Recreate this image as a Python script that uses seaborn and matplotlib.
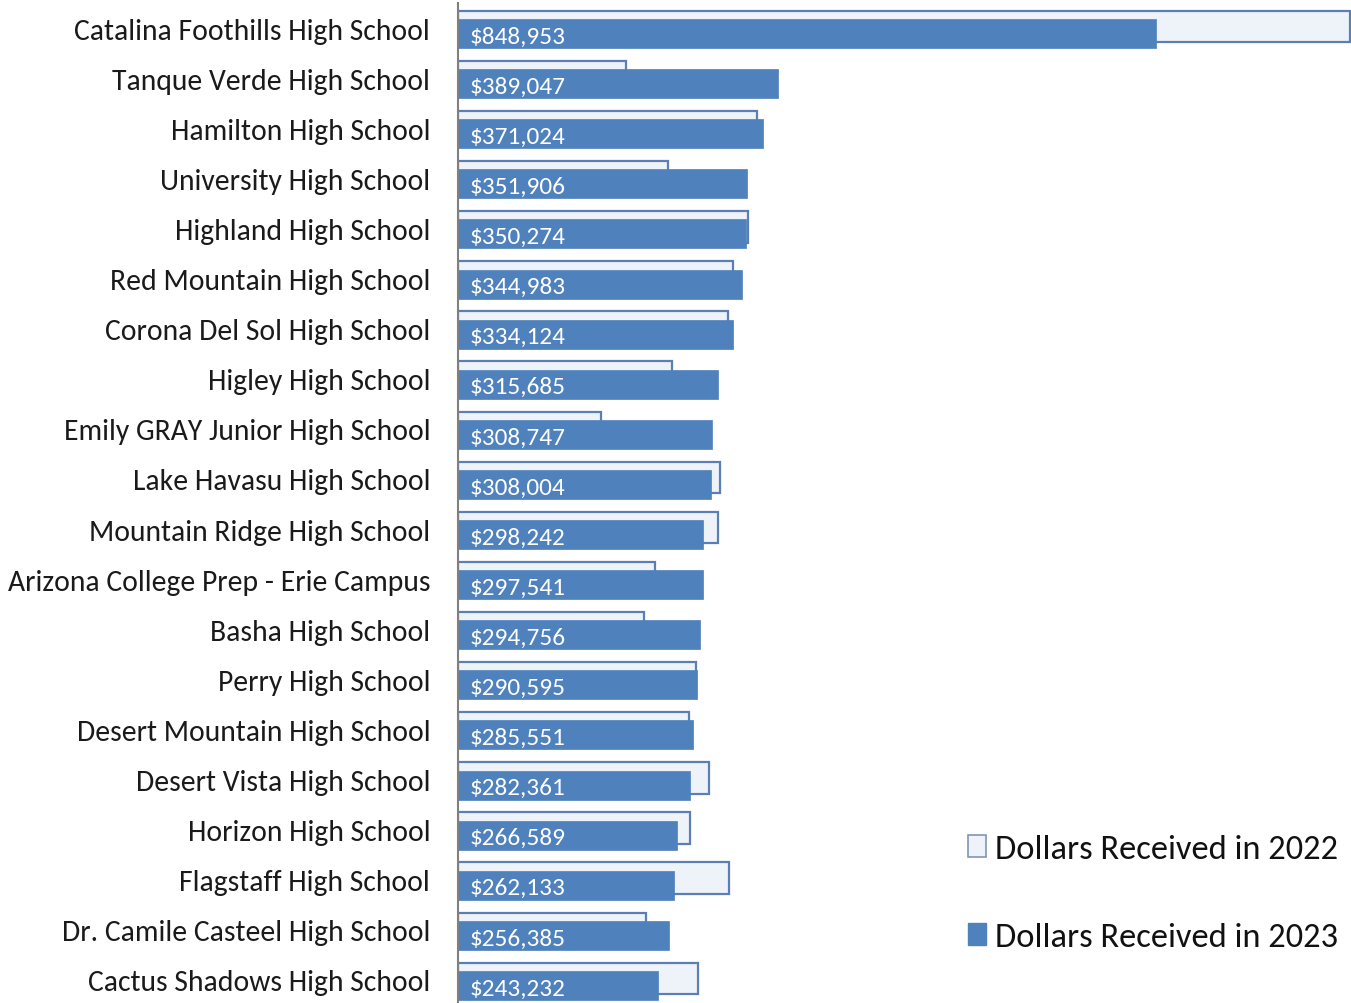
import numpy as np
import pandas as pd
import matplotlib
matplotlib.use("Agg")
import matplotlib.pyplot as plt
import seaborn as sns
from matplotlib.patches import Patch
from matplotlib.ticker import FixedLocator

schools = ["Catalina Foothills High School", "Tanque Verde High School", "Hamilton High School",
           "University High School", "Highland High School", "Red Mountain High School",
           "Corona Del Sol High School", "Higley High School", "Emily GRAY Junior High School",
           "Lake Havasu High School", "Mountain Ridge High School", "Arizona College Prep - Erie Campus",
           "Basha High School", "Perry High School", "Desert Mountain High School",
           "Desert Vista High School", "Horizon High School", "Flagstaff High School",
           "Dr. Camile Casteel High School", "Cactus Shadows High School"]
dollars_2023 = [848953, 389047, 371024, 351906, 350274, 344983, 334124, 315685, 308747, 308004,
                298242, 297541, 294756, 290595, 285551, 282361, 266589, 262133, 256385, 243232]
# 2022 values
dollars_2022 = [1085000, 204300, 363600, 255400, 352600, 334400, 328300, 260200, 173900, 318600,
                316200, 239600, 226200, 289400, 280900, 305200, 282100, 329500, 228600, 291800]

blue = "#4f81bd"
pale = "#eef3fa"
edge = "#5b7fb3"

sns.set_style("white")
plt.rcParams["font.family"] = ["Carlito", "DejaVu Sans"]

fig = plt.figure(figsize=(13.51, 10.04), dpi=100)
ax = fig.add_axes([458 / 1351, -2 / 1004, 893 / 1351, 1002 / 1004])

df = pd.DataFrame({"School": schools, "y2022": dollars_2022, "y2023": dollars_2023})

# 2022 outlined bars (behind, shifted up a bit)
sns.barplot(data=df, x="y2022", y="School", orient="h", color=pale, saturation=1,
            edgecolor=edge, linewidth=1.6, width=0.63, ax=ax)
n = len(schools)
for p in ax.patches[:n]:
    p.set_y(p.get_y() - 0.03)

# 2023 filled bars
sns.barplot(data=df, x="y2023", y="School", orient="h", color=blue, saturation=1,
            edgecolor=blue, linewidth=0.5, width=0.58, ax=ax)
for p in ax.patches[n:]:
    p.set_y(p.get_y() + 0.11)

for p, v in zip(ax.patches[n:], dollars_2023):
    ax.annotate(f"${v:,.0f}", xy=(0, p.get_y() + p.get_height() / 2 + 0.05),
                xytext=(8.5, 0), textcoords="offset points", va="center", ha="left",
                color="white", fontsize=18.2)

ax.set_xlim(0, 893 * 1216)
ax.set_ylim(n - 0.5, -0.5)
ax.set_xlabel("")
ax.set_ylabel("")
ax.set_xticks([])

ax.tick_params(axis="y", which="major", length=0, labelsize=21.3, pad=20, labelcolor="#1a1a1a")
ax.yaxis.set_minor_locator(FixedLocator(np.arange(-0.5, n, 1.0)))
ax.tick_params(axis="y", which="minor", length=8, width=1.5, color="#808080", direction="out")

for s in ["top", "right", "bottom"]:
    ax.spines[s].set_visible(False)
ax.spines["left"].set_color("#808080")
ax.spines["left"].set_linewidth(1.5)

handles = [Patch(facecolor=pale, edgecolor="#7f95b8", linewidth=1.2, label="Dollars Received in 2022"),
           Patch(facecolor=blue, edgecolor=blue, label="Dollars Received in 2023")]
leg = fig.legend(handles=handles, loc="upper left", bbox_to_anchor=(968 / 1351, 1 - 835 / 1004),
                 frameon=False, fontsize=24.8, handlelength=0.52, handleheight=0.6,
                 handletextpad=0.26, labelspacing=1.69, borderaxespad=0, borderpad=0)
for t in leg.get_texts():
    t.set_color("#111111")

fig.savefig("out.png", dpi=100)
